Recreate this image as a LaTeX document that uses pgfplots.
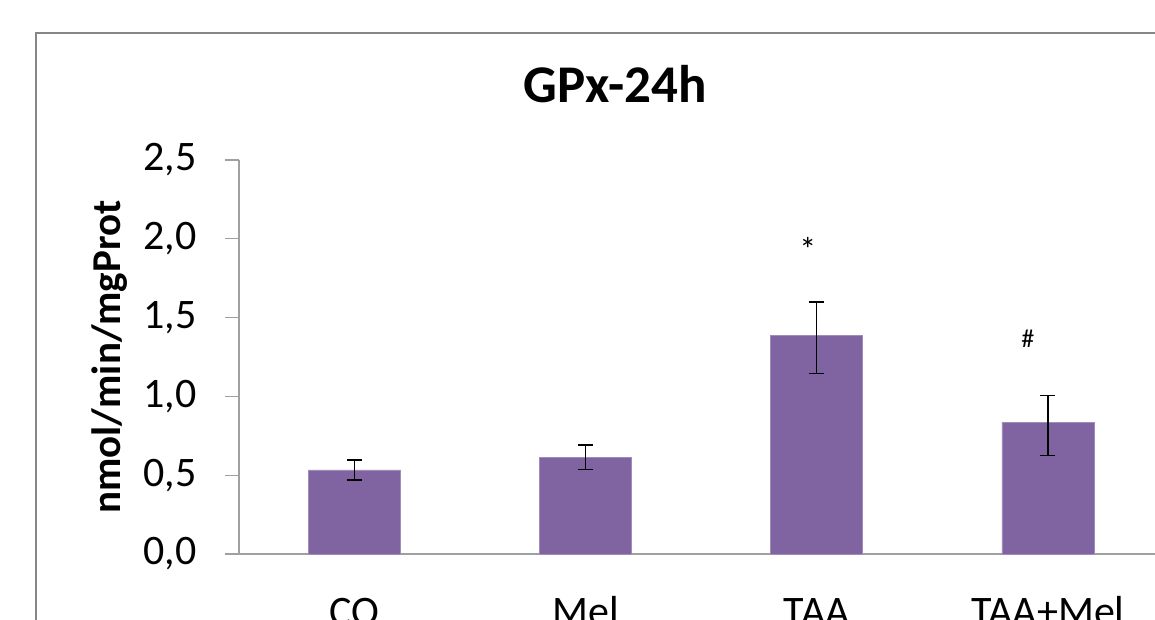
\documentclass[border=0pt]{standalone}
\usepackage{pgfplots}
\pgfplotsset{compat=1.18}
\usepackage{fontspec}
\setmainfont{Carlito}
\definecolor{barpurple}{HTML}{8064A2}
\definecolor{axisgray}{HTML}{A0A0A0}
\definecolor{framegray}{HTML}{878787}
\begin{document}
\begin{tikzpicture}[x=1pt,y=1pt]
\useasboundingbox (0,0) rectangle (1155,620);
\clip (0,0) rectangle (1155,620);
\draw[framegray, line width=2pt] (36,-50) -- (36,587) -- (1200,587);
\begin{axis}[
  at={(239pt,66pt)}, anchor=south west,
  scale only axis, width=924.5pt, height=394pt,
  xmin=-0.5, xmax=3.5, ymin=0, ymax=2.5,
  axis x line=bottom, axis y line=left,
  axis line style={-, axisgray, line width=1.2pt},
  xtick={0,1,2,3}, xticklabels={CO,Mel,TAA,TAA+Mel},
  ytick={0,0.5,1,1.5,2,2.5},
  xtick style={draw=none},
  ytick style={axisgray, line width=1.2pt},
  tick align=outside,
  major tick length=14pt,
  /pgf/number format/assume math mode=true,
  tick label style={font=\fontsize{42}{50}\selectfont},
  yticklabel style={xshift=-25pt, /pgf/number format/fixed, /pgf/number format/fixed zerofill, /pgf/number format/precision=1, /pgf/number format/use comma},
  xticklabel style={anchor=base, yshift=-57pt},
  ylabel={\bfseries nmol/min/mgProt},
  every axis y label/.style={at={(axis description cs:-0.1287,0.5)}, rotate=90, anchor=base, font=\fontsize{41}{48}\selectfont},
  title={\bfseries GPx-24h},
  every axis title/.style={at={(axis description cs:0.4067,1.1447)}, anchor=base, font=\fontsize{53}{60}\selectfont},
  clip=false,
]
\addplot[ybar, bar width=92pt, fill=barpurple, draw=barpurple!75!white, line width=0.8pt,
  error bars/.cd, y dir=both, y explicit,
  error bar style={black, line width=1.2pt},
  error mark options={black, rotate=90, mark size=7.5pt, line width=1.2pt}]
  coordinates {(0,0.533) += (0,0.063) -= (0,0.063)
               (1,0.611) += (0,0.081) -= (0,0.076)
               (2,1.385) += (0,0.214) -= (0,0.238)
               (3,0.836) += (0,0.169) -= (0,0.21)};
\node[font=\fontsize{34}{40}\selectfont] at (axis cs:1.961,1.93) {*};
\node[font=\fontsize{26}{30}\selectfont] at (axis cs:2.913,1.364) {\#};
\end{axis}
\end{tikzpicture}
\end{document}
